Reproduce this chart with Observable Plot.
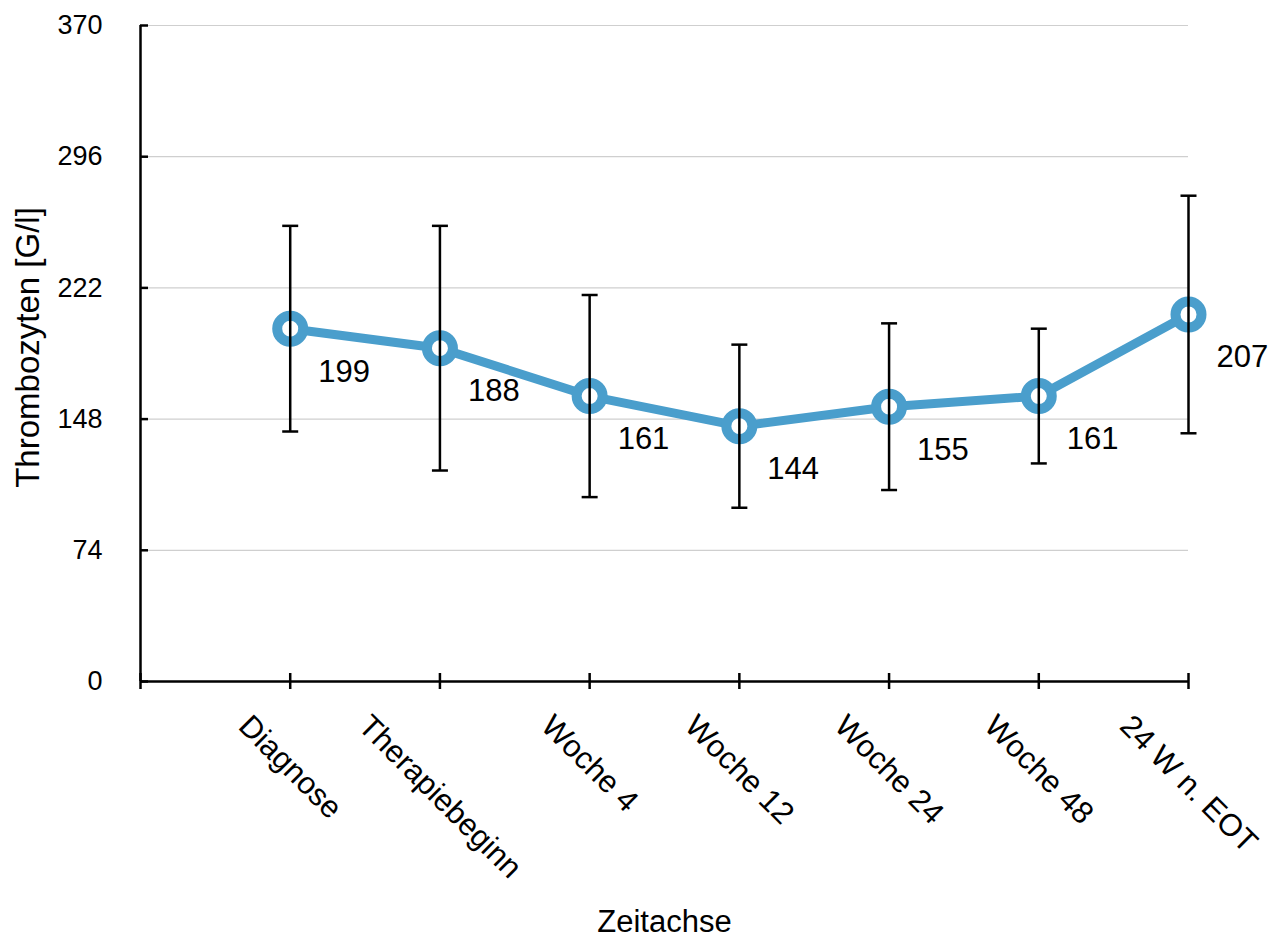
<!DOCTYPE html>
<html>
<head>
<meta charset="utf-8">
<script src="https://cdn.jsdelivr.net/npm/d3@7"></script>
<script src="https://cdn.jsdelivr.net/npm/@observablehq/plot@0.6"></script>
<style>
  html, body { margin: 0; padding: 0; background: #fff; }
</style>
</head>
<body>
<div id="chart"></div>
<script>
// Platelet counts over the course of therapy (mean ± SD)
const categories = ["Diagnose", "Therapiebeginn", "Woche 4", "Woche 12", "Woche 24", "Woche 48", "24 W n. EOT"];
const means = [199, 188, 161, 144, 155, 161, 207];
const sds = [58, 69, 57, 46, 47, 38, 67];
const yTicks = [0, 74, 148, 222, 296, 370];
const yTitle = "Thrombozyten [G/l]";
const xTitle = "Zeitachse";

const blue = "#4a9ecc";
const fontFamily = "'Liberation Sans', Arial, Helvetica, sans-serif";
const catFont = 31;

// categories sit at positions 1..n, position 0 is the empty start of the axis
const rows = categories.map((c, i) => ({
  label: c,
  pos: i + 1,
  mean: means[i],
  lo: means[i] - sds[i],
  hi: means[i] + sds[i]
}));
const xTickPositions = d3.range(0, categories.length + 1);

// horizontal cap for the error bars
const capSymbol = {
  draw(context, size) {
    const h = Math.sqrt(size / Math.PI);
    context.moveTo(-h, 0);
    context.lineTo(h, 0);
  }
};

// rotated category labels: centred under each tick, top edge a fixed gap below the axis
const ctx = document.createElement("canvas").getContext("2d");
ctx.font = `${catFont}px ${fontFamily}`;
const catLabelMarks = rows.map(r => {
  const w = ctx.measureText(r.label).width;
  const dy = 29 + (w + 0.93 * catFont) / (2 * Math.SQRT2);
  return Plot.text([r], {
    x: "pos", frameAnchor: "bottom", text: "label",
    rotate: 45, textAnchor: "middle", lineAnchor: "middle",
    dy, fontSize: catFont, fill: "black"
  });
});

const chart = Plot.plot({
  width: 1277,
  height: 938,
  marginLeft: 140,
  marginRight: 89,
  marginTop: 25,
  marginBottom: 257,
  style: { fontFamily, background: "white", color: "black" },
  x: { type: "linear", domain: [0, categories.length], axis: null },
  y: { domain: [0, 370], axis: null },
  marks: [
    Plot.gridY(yTicks.filter(t => t > 0), { stroke: "#cfcfcf", strokeOpacity: 1, strokeWidth: 1.2 }),
    // axis lines
    Plot.ruleX([0], { stroke: "black", strokeWidth: 2.5 }),
    Plot.ruleY([0], { stroke: "black", strokeWidth: 2.5 }),
    // y ticks point into the plot, labels on the left
    Plot.axisY(yTicks, { tickSize: 8, dx: 8, tickFormat: () => "", strokeWidth: 2.5, label: null }),
    Plot.axisY(yTicks, { tickSize: 0, tickPadding: 38, fontSize: 27, label: null }),
    // x ticks cross the axis line
    Plot.axisX(xTickPositions, { tickSize: 16, dy: -8, tickFormat: () => "", strokeWidth: 2.5, label: null }),
    // mean line and markers
    Plot.line(rows, { x: "pos", y: "mean", stroke: blue, strokeWidth: 9, strokeLinejoin: "round" }),
    Plot.dot(rows, { x: "pos", y: "mean", r: 13, fill: "white", stroke: blue, strokeWidth: 10 }),
    // error bars
    Plot.ruleX(rows, { x: "pos", y1: "lo", y2: "hi", stroke: "black", strokeWidth: 2.5 }),
    Plot.dot(rows, { x: "pos", y: "lo", symbol: capSymbol, r: 8, stroke: "black", strokeWidth: 2.5, fill: "none" }),
    Plot.dot(rows, { x: "pos", y: "hi", symbol: capSymbol, r: 8, stroke: "black", strokeWidth: 2.5, fill: "none" }),
    // value labels
    Plot.text(rows, { x: "pos", y: "mean", text: d => String(d.mean), textAnchor: "start", lineAnchor: "middle", dx: 28, dy: 43, fontSize: 31, fill: "black" }),
    ...catLabelMarks,
    // axis titles
    Plot.text([yTitle], { text: d => d, frameAnchor: "left", rotate: -90, textAnchor: "middle", lineAnchor: "middle", dx: -112, dy: -6, fontSize: 33, fill: "black" }),
    Plot.text([xTitle], { text: d => d, frameAnchor: "bottom", textAnchor: "middle", lineAnchor: "middle", dy: 241, fontSize: 31, fill: "black" })
  ]
});

document.getElementById("chart").appendChild(chart);
</script>
</body>
</html>
